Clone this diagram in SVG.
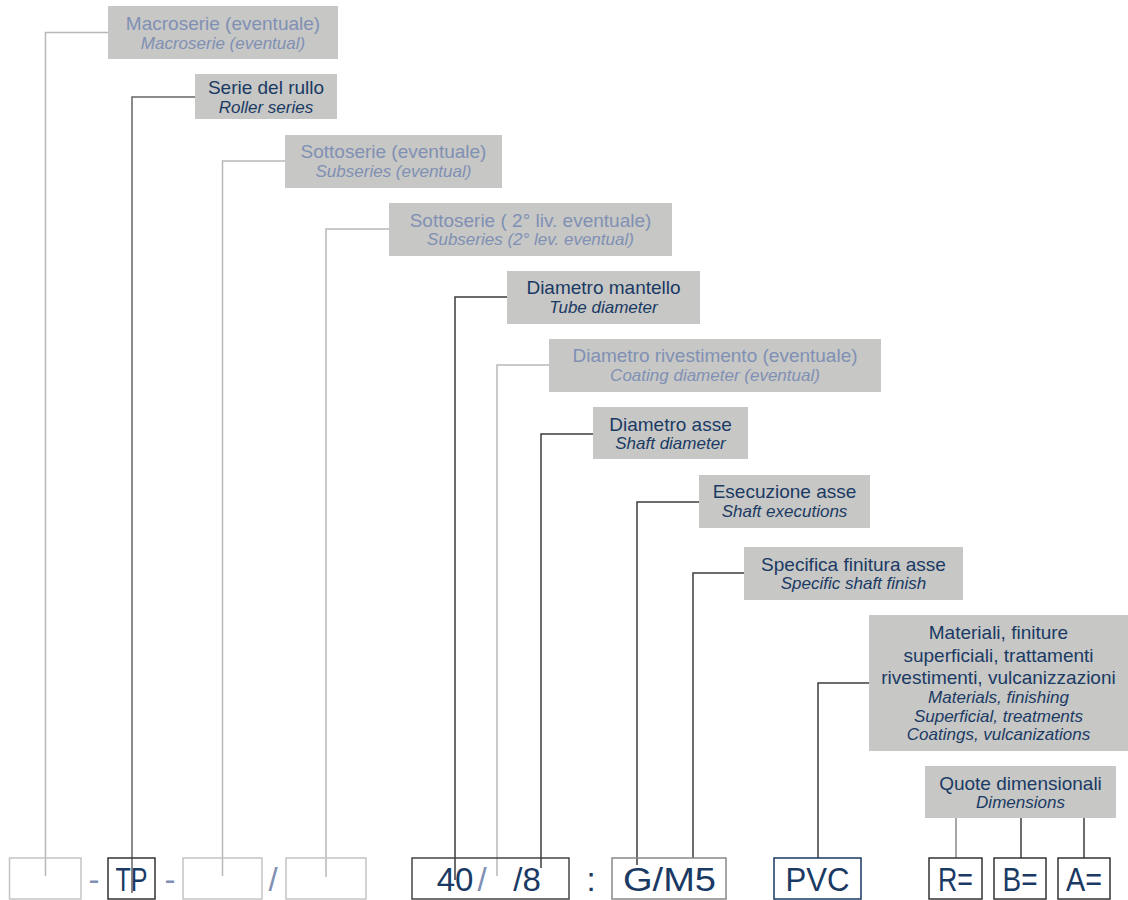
<svg xmlns="http://www.w3.org/2000/svg" width="1128" height="900" viewBox="0 0 1128 900">
<style>
.box{fill:#c7c7c5}
.t1{font-family:"Liberation Sans",Arial,sans-serif;font-size:19px;text-anchor:middle}
.t2{font-family:"Liberation Sans",Arial,sans-serif;font-size:17px;font-style:italic;text-anchor:middle}
.dk{fill:#1a3a64}
.lt{fill:#8090b4}
.cl{fill:none;stroke:#b8b8b8;stroke-width:1.5}
.cd{fill:none;stroke:#3c3c3c;stroke-width:1.5}
.cm{fill:none;stroke:#666;stroke-width:1.5}
.bl{fill:none;stroke:#c4c4c4;stroke-width:1.5}
.bd{fill:none;stroke:#333;stroke-width:1.5}
.bg{fill:none;stroke:#888;stroke-width:1.5}
.bn{fill:none;stroke:#1a3a64;stroke-width:1.5}
.big{font-family:"Liberation Sans",Arial,sans-serif;font-size:33px;text-anchor:middle}
</style>
<rect width="1128" height="900" fill="#fff"/>
<g id="connectors">
<path class="cl" d="M108,32.5H45.5V876"/>
<path class="cm" d="M195,97H132V893"/>
<path class="cl" d="M285,161H222.5V876"/>
<path class="cl" d="M389,229H326V877"/>
<path class="cd" d="M507,297H455V880"/>
<path class="cl" d="M549,365H497V876"/>
<path class="cd" d="M593,434H541V868"/>
<path class="cd" d="M699,502H637V865"/>
<path class="cd" d="M744,573H693V858"/>
<path class="cd" d="M869,683H818V858"/>
<path class="cg" d="M956,818V858" style="fill:none;stroke:#888;stroke-width:1.5"/>
<path class="cd" d="M1021,818V858"/>
<path class="cd" d="M1084,818V858"/>
</g>
<g id="macroserie">
<rect class="box" x="108" y="6" width="230" height="53"/>
<text class="t1 lt" x="223" y="30">Macroserie (eventuale)</text>
<text class="t2 lt" x="223" y="49">Macroserie (eventual)</text>
</g>
<g id="serie">
<rect class="box" x="195" y="74" width="142" height="45"/>
<text class="t1 dk" x="266" y="94">Serie del rullo</text>
<text class="t2 dk" x="266" y="113">Roller series</text>
</g>
<g id="sottoserie">
<rect class="box" x="285" y="135" width="217" height="53"/>
<text class="t1 lt" x="393.5" y="158">Sottoserie (eventuale)</text>
<text class="t2 lt" x="393.5" y="177">Subseries (eventual)</text>
</g>
<g id="sottoserie2">
<rect class="box" x="389" y="203" width="283" height="53"/>
<text class="t1 lt" x="530.5" y="227">Sottoserie ( 2° liv. eventuale)</text>
<text class="t2 lt" x="530.5" y="245">Subseries (2° lev. eventual)</text>
</g>
<g id="mantello">
<rect class="box" x="507" y="271" width="193" height="53"/>
<text class="t1 dk" x="603.5" y="294">Diametro mantello</text>
<text class="t2 dk" x="603.5" y="313">Tube diameter</text>
</g>
<g id="rivestimento">
<rect class="box" x="549" y="339" width="332" height="53"/>
<text class="t1 lt" x="715" y="362">Diametro rivestimento (eventuale)</text>
<text class="t2 lt" x="715" y="381">Coating diameter (eventual)</text>
</g>
<g id="asse">
<rect class="box" x="593" y="407" width="155" height="52"/>
<text class="t1 dk" x="670.5" y="431">Diametro asse</text>
<text class="t2 dk" x="670.5" y="449">Shaft diameter</text>
</g>
<g id="esecuzione">
<rect class="box" x="699" y="475" width="171" height="53"/>
<text class="t1 dk" x="784.5" y="498">Esecuzione asse</text>
<text class="t2 dk" x="784.5" y="517">Shaft executions</text>
</g>
<g id="specifica">
<rect class="box" x="744" y="547" width="219" height="53"/>
<text class="t1 dk" x="853.5" y="571">Specifica finitura asse</text>
<text class="t2 dk" x="853.5" y="589">Specific shaft finish</text>
</g>
<g id="materiali">
<rect class="box" x="869" y="615" width="259" height="136"/>
<text class="t1 dk" x="998.5" y="639">Materiali, finiture</text>
<text class="t1 dk" x="998.5" y="661.5">superficiali, trattamenti</text>
<text class="t1 dk" x="998.5" y="684">rivestimenti, vulcanizzazioni</text>
<text class="t2 dk" x="998.5" y="703">Materials, finishing</text>
<text class="t2 dk" x="998.5" y="721.5">Superficial, treatments</text>
<text class="t2 dk" x="998.5" y="740">Coatings, vulcanizations</text>
</g>
<g id="quote">
<rect class="box" x="925" y="766" width="191" height="52"/>
<text class="t1 dk" x="1020.5" y="790">Quote dimensionali</text>
<text class="t2 dk" x="1020.5" y="808">Dimensions</text>
</g>
<g id="code">
<rect class="bl" x="9.5" y="858" width="71.5" height="41"/>
<text class="big lt" x="94" y="891">-</text>
<rect class="bd" x="108" y="858" width="47" height="41"/>
<text class="big dk" x="131.5" y="891" textLength="32" lengthAdjust="spacingAndGlyphs">TP</text>
<text class="big lt" x="170" y="891">-</text>
<rect class="bl" x="183" y="858" width="79" height="41"/>
<text class="big lt" x="273" y="891">/</text>
<rect class="bl" x="286" y="858" width="80" height="41"/>
<rect class="bd" x="412" y="858" width="157" height="41" style="stroke:#444"/>
<text class="big dk" x="455" y="891">40</text>
<text class="big lt" x="482" y="891">/</text>
<text class="big dk" x="527" y="891">/8</text>
<text class="big dk" x="591" y="891">:</text>
<rect class="bg" x="612" y="858" width="114" height="41"/>
<text class="big dk" x="669.5" y="891" textLength="93" lengthAdjust="spacingAndGlyphs">G/M5</text>
<rect class="bn" x="774" y="858" width="87" height="41"/>
<text class="big dk" x="817.5" y="891" textLength="64" lengthAdjust="spacingAndGlyphs">PVC</text>
<rect class="bd" x="929" y="858" width="53" height="41"/>
<text class="big dk" x="955.5" y="891" textLength="35" lengthAdjust="spacingAndGlyphs">R=</text>
<rect class="bd" x="994" y="858" width="52" height="41"/>
<text class="big dk" x="1020" y="891" textLength="35" lengthAdjust="spacingAndGlyphs">B=</text>
<rect class="bd" x="1058" y="858" width="52" height="41"/>
<text class="big dk" x="1084" y="891" textLength="36" lengthAdjust="spacingAndGlyphs">A=</text>
</g>
</svg>
